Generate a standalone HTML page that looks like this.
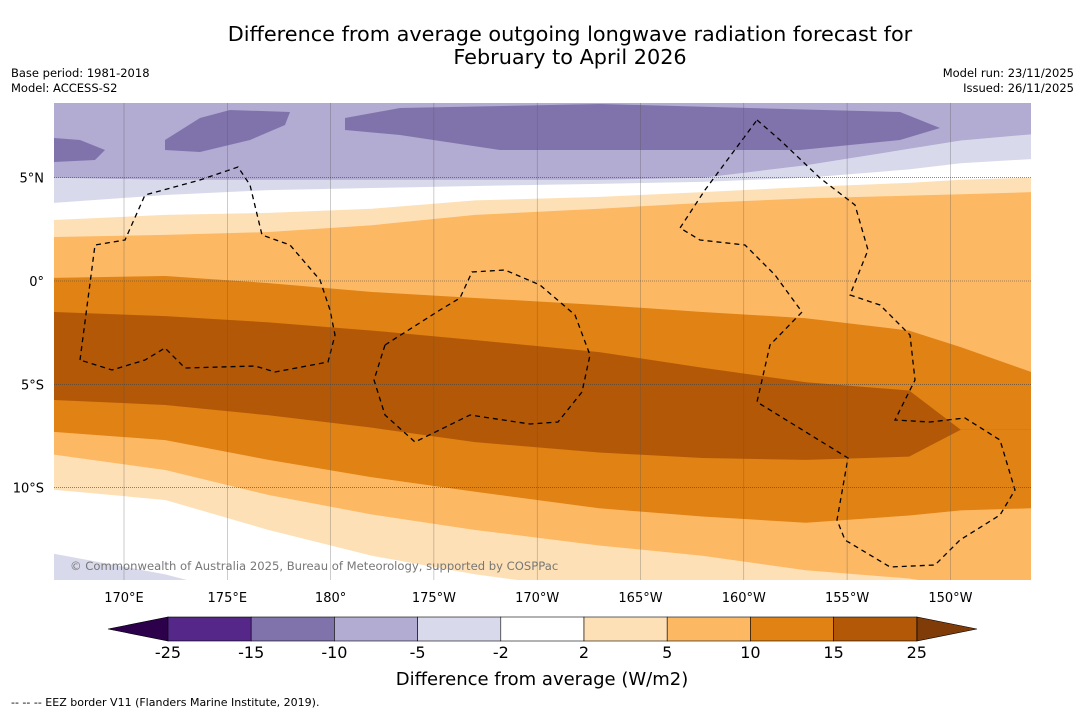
<!DOCTYPE html>
<html><head><meta charset="utf-8"><style>
html,body{margin:0;padding:0;background:#fff;}
body{width:1085px;height:713px;overflow:hidden;font-family:"DejaVu Sans","Liberation Sans",sans-serif;}
svg{display:block}
</style></head><body>
<svg id="chart" width="1085" height="713" xmlns="http://www.w3.org/2000/svg">
<text x="570" y="41" font-size="20.8" text-anchor="middle">Difference from average outgoing longwave radiation forecast for</text>
<text x="570" y="64" font-size="20.8" text-anchor="middle">February to April 2026</text>
<text x="11" y="77" font-size="11.5">Base period: 1981-2018</text>
<text x="11" y="92" font-size="11.5">Model: ACCESS-S2</text>
<text x="1074" y="77" font-size="11.5" text-anchor="end">Model run: 23/11/2025</text>
<text x="1074" y="92" font-size="11.5" text-anchor="end">Issued: 26/11/2025</text>
<defs><clipPath id="mapclip"><rect x="54" y="103" width="977" height="477"/></clipPath></defs>
<g id="map" clip-path="url(#mapclip)"></g>
<g id="axes"></g>
<g id="cbar"></g>
<text x="542" y="685" font-size="18" text-anchor="middle">Difference from average (W/m2)</text>
<text x="11" y="706" font-size="11">--  --  -- EEZ border V11 (Flanders Marine Institute, 2019).</text>
</svg>
<script>
// Data
const lons = [166.6,172,177,182,187,193,198,203,208,210.5,213.9];
const boundaries = [
 [5.0,4.9,4.9,4.9,4.9,4.9,5.0,5.6,6.4,6.8,7.1],
 [3.78,4.16,4.4,4.5,4.6,4.7,4.8,5.0,5.4,5.7,5.9],
 [2.95,3.2,3.3,3.5,3.9,4.07,4.3,4.55,4.75,4.9,5.0],
 [2.13,2.23,2.37,2.7,3.2,3.5,3.78,4.0,4.13,4.2,4.3],
 [0.15,0.24,-0.1,-0.53,-0.82,-1.16,-1.5,-1.8,-2.4,-3.2,-4.4],
 [-1.5,-1.7,-2.0,-2.4,-2.86,-3.44,-4.2,-4.9,-5.3,-7.2,-7.2],
 [-5.76,-6.0,-6.5,-7.1,-7.8,-8.3,-8.57,-8.66,-8.5,-7.2,-7.2],
 [-7.3,-7.7,-8.66,-9.5,-10.2,-11.0,-11.4,-11.7,-11.35,-11.1,-11.0],
 [-8.4,-9.15,-10.36,-11.3,-12.05,-12.8,-13.3,-14.0,-14.4,-14.8,-15],
 [-10.1,-10.6,-12.05,-13.3,-14.2,-15,-15,-15,-15,-15,-15],
 [-13.2,-14.2,-15.5,-16,-16,-16,-16,-16,-16,-16,-16]
];
const bandColors = ["#d8daeb","#ffffff","#fee0b6","#fdb863","#e08214","#b35806","#e08214","#fdb863","#fee0b6","#ffffff","#d8daeb"];
const lonTicks = [170,175,180,185,190,195,200,205,210];
const lonLabels = ["170°E","175°E","180°","175°W","170°W","165°W","160°W","155°W","150°W"];
const latTicks = [5,0,-5,-10];
const latLabels = ["5°N","0°","5°S","10°S"];
const cbLevels = ["-25","-15","-10","-5","-2","2","5","10","15","25"];
const cbColors = ["#542788","#8073ac","#b2abd2","#d8daeb","#ffffff","#fee0b6","#fdb863","#e08214","#b35806"];

const NS="http://www.w3.org/2000/svg";
const X = lon => 124 + (lon-170)*20.66;
const Y = lat => 281 - lat*20.66;
function mk(tag, attrs, parent){const e=document.createElementNS(NS,tag);for(const k in attrs)e.setAttribute(k,attrs[k]);parent.appendChild(e);return e;}
const map=document.getElementById('map');
const bg=mk('rect',{x:54,y:103,width:977,height:477,fill:'#b2abd2'},map);


const p1=mk('path',{d:'M54,138 L80,140 L105,150 L95,160 L54,162 Z M165,140 L200,118 L230,110 L290,112 L285,125 L250,140 L200,152 L165,150 Z M345,118 L400,108 L600,104 L900,112 L940,128 L900,140 L800,150 L700,150 L500,150 L400,135 L345,130 Z',fill:'#8073ac'},map);


boundaries.forEach((b,i)=>{
  let d='M'+X(lons[0]-2)+','+Y(b[0]);
  b.forEach((v,j)=>{d+=' L'+X(lons[j])+','+Y(v);});
  d+=' L'+X(lons[lons.length-1]+2)+','+Y(b[b.length-1])+' L1040,600 L40,600 Z';
  const p=mk('path',{d:d,fill:bandColors[i]},map);
  
  
});
const axes=document.getElementById('axes');
lonTicks.forEach((l,i)=>{
  const ln=mk('line',{x1:X(l),x2:X(l),y1:103,y2:580,stroke:'#555','stroke-width':0.5,'stroke-opacity':0.6},axes);
  
  
  const t=mk('text',{x:X(l),y:602,'font-size':13,'text-anchor':'middle'},axes);
  t.textContent=lonLabels[i];
  
  
});
latTicks.forEach((l,i)=>{
  const ln=mk('line',{x1:54,x2:1031,y1:Y(l),y2:Y(l),stroke:'#444','stroke-width':0.6,'stroke-dasharray':'1,1'},axes);
  
  
  const t=mk('text',{x:44,y:Y(l)+5,'font-size':13,'text-anchor':'end'},axes);
  t.textContent=latLabels[i];
  
  
});
const eez=['M80,360 L95,245 L125,240 L145,195 L200,180 L238,167 L250,185 L262,235 L290,245 L320,280 L330,310 L335,335 L328,362 L275,372 L255,366 L185,368 L165,348 L145,360 L112,370 L80,360',
'M385,345 L440,310 L460,298 L472,272 L505,270 L540,285 L575,315 L590,355 L582,392 L558,422 L530,424 L470,415 L415,442 L385,415 L374,380 Z',
'M757,120 L780,140 L820,178 L855,205 L868,250 L850,295 L880,305 L910,335 L915,380 L895,420 L930,422 L965,418 L1000,440 L1015,490 L1000,515 L960,540 L935,565 L890,567 L845,540 L837,520 L848,458 L757,402 L770,345 L802,312 L775,275 L745,245 L700,240 L680,228 L705,190 Z'];
eez.forEach(d=>{
  const p=mk('path',{d:d,fill:'none',stroke:'#000','stroke-width':1.3,'stroke-dasharray':'5,4'},map);
  
  
});
const cr=mk('text',{x:70,y:570,'font-size':11.6,fill:'#777'},map);
cr.textContent='© Commonwealth of Australia 2025, Bureau of Meteorology, supported by COSPPac';


const cb=document.getElementById('cbar');
const cbX=i=>168+i*83.2;
const lt=mk('polygon',{points:'108,629 168,617 168,641',fill:'#2d004b',stroke:'#000','stroke-width':0.6},cb);


const rt=mk('polygon',{points:'977,629 917,617 917,641',fill:'#7f3b08',stroke:'#000','stroke-width':0.6},cb);


cbColors.forEach((c,i)=>{
  const r=mk('rect',{x:cbX(i),y:617,width:83.2,height:24,fill:c,stroke:'#000','stroke-width':0.6},cb);
  
  
});
cbLevels.forEach((s,i)=>{
  const t=mk('text',{x:cbX(i),y:658,'font-size':16,'text-anchor':'middle'},cb);
  t.textContent=s;
  
  
});
</script>
</body></html>
